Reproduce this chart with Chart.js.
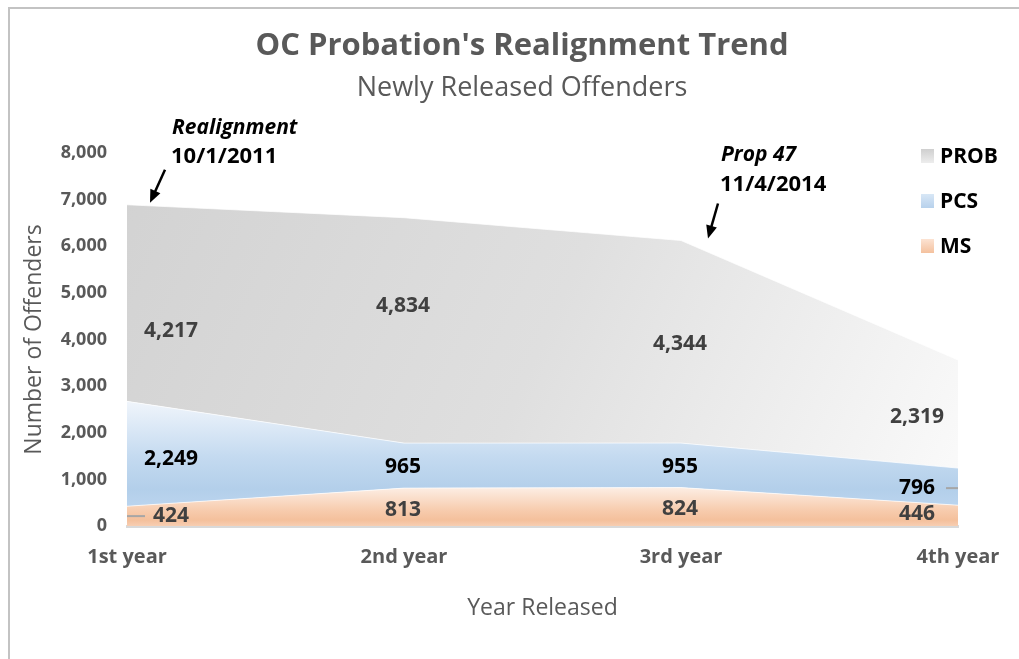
<!DOCTYPE html>
<html>
<head>
<meta charset="utf-8">
<script src="https://cdn.jsdelivr.net/npm/chart.js@4.4.1/dist/chart.umd.min.js"></script>
<style>
  html, body { margin: 0; padding: 0; background: #fff; }
  #frame { position: absolute; left: 8px; top: 7px; width: 1100px; height: 700px; border: 2px solid #c3c3c3; box-sizing: border-box; }
  #wrap { position: absolute; left: 0; top: 0; width: 1019px; height: 659px; }
</style>
</head>
<body>
<div id="frame"></div>
<div id="wrap"><canvas id="chart"></canvas></div>
<script>
// Chart data
const years = ['1st year', '2nd year', '3rd year', '4th year'];
const msValues = [424, 813, 824, 446];
const pcsValues = [2249, 965, 955, 796];
const probValues = [4217, 4834, 4344, 2319];

// Where each value label sits inside its band (0 = bottom, 1 = top)
const msSpot = [0.5, 0.42, 0.44, 0.58];
const pcsSpot = [0.45, 0.47, 0.46, 0.46];
const probSpot = [0.36, 0.61, 0.49, 0.47];
const labelShift = [44, -1, -1, -41];

const FONT = "'Open Sans', sans-serif";

// Gradient fills, built once the chart area is known
function probFill(context) {
  const chart = context.chart;
  const area = chart.chartArea;
  if (!area) return '#dddddd';
  const g = chart.ctx.createLinearGradient(area.left, area.top, area.right, area.bottom);
  g.addColorStop(0, '#d2d2d2');
  g.addColorStop(0.5, '#dfdfdf');
  g.addColorStop(1, '#fbfbfb');
  return g;
}

function pcsFill(context) {
  const chart = context.chart;
  if (!chart.chartArea) return '#c5dbf0';
  const y = chart.scales.y;
  const g = chart.ctx.createLinearGradient(0, y.getPixelForValue(2750), 0, y.getPixelForValue(450));
  g.addColorStop(0, '#f3f7fc');
  g.addColorStop(0.55, '#c4daf0');
  g.addColorStop(0.85, '#b3cfea');
  g.addColorStop(1, '#bad4ee');
  return g;
}

function msFill(context) {
  const chart = context.chart;
  if (!chart.chartArea) return '#f7cfb3';
  const y = chart.scales.y;
  const g = chart.ctx.createLinearGradient(0, y.getPixelForValue(850), 0, y.getPixelForValue(0));
  g.addColorStop(0, '#fdf0e7');
  g.addColorStop(0.6, '#f7ccae');
  g.addColorStop(0.85, '#f4c09c');
  g.addColorStop(1, '#f7ceb2');
  return g;
}

// Value labels drawn on top of the areas
const valueLabels = {
  id: 'valueLabels',
  afterDatasetsDraw(chart) {
    const { ctx, scales: { x, y } } = chart;
    const sets = chart.data.datasets;
    ctx.save();
    ctx.font = 'bold 21px ' + FONT;
    ctx.textAlign = 'center';
    ctx.textBaseline = 'middle';
    sets.forEach((ds, i) => {
      ds.data.forEach((v, j) => {
        let base = 0;
        for (let k = 0; k < i; k++) base += sets[k].data[j];
        const px = x.getPixelForValue(j) + labelShift[j];
        const py = y.getPixelForValue(base + v * ds.spot[j]);
        const text = v.toLocaleString('en-US');
        ctx.fillStyle = ds.labelColor;
        ctx.fillText(text, px, py);
        // leader lines for labels pulled away from their edge point
        if (ds.leader && ds.leader.index === j) {
          const w = ctx.measureText(text).width;
          const edge = x.getPixelForValue(j);
          ctx.strokeStyle = '#a6a6a6';
          ctx.lineWidth = 2;
          ctx.beginPath();
          if (ds.leader.side === 'left') {
            ctx.moveTo(edge, py);
            ctx.lineTo(px - w / 2 - 8, py);
          } else {
            ctx.moveTo(px + w / 2 + 11, py);
            ctx.lineTo(edge, py);
          }
          ctx.stroke();
        }
      });
    });
    ctx.restore();
  }
};

// Title, legend and the two callouts
const decorations = {
  id: 'decorations',
  afterDraw(chart) {
    const { ctx, scales: { x, y } } = chart;
    const sets = chart.data.datasets;
    ctx.save();

    ctx.fillStyle = '#595959';
    ctx.textAlign = 'center';
    ctx.textBaseline = 'middle';
    ctx.font = 'bold 31px ' + FONT;
    ctx.fillText("OC Probation's Realignment Trend", 522, 46);
    ctx.font = '27px ' + FONT;
    ctx.fillText('Newly Released Offenders', 522, 88);

    // legend, top series first
    const legendItems = [
      { name: 'PROB', top: '#cfcfcf', bottom: '#ededed' },
      { name: 'PCS', top: '#d8e7f6', bottom: '#b7d1ec' },
      { name: 'MS', top: '#fce3d3', bottom: '#f4c19e' }
    ];
    ctx.textAlign = 'left';
    ctx.font = 'bold 21px ' + FONT;
    legendItems.forEach((item, i) => {
      const cy = 156 + i * 45;
      const g = ctx.createLinearGradient(0, cy - 7, 0, cy + 7);
      g.addColorStop(0, item.top);
      g.addColorStop(1, item.bottom);
      ctx.fillStyle = g;
      ctx.fillRect(921, cy - 7, 13, 14);
      ctx.fillStyle = '#000';
      ctx.fillText(item.name, 940, cy + 1);
    });

    // callouts pointing at the stacked total of a year
    const notes = [
      { title: 'Realignment', date: '10/1/2011', at: 0, tip: [23, -2], tail: [38, -35], text: [45, -77] },
      { title: 'Prop 47', date: '11/4/2014', at: 2, tip: [27, -2], tail: [37, -37], text: [40, -85] }
    ];
    notes.forEach(n => {
      let total = 0;
      sets.forEach(ds => { total += ds.data[n.at]; });
      const ax = x.getPixelForValue(n.at);
      const ay = y.getPixelForValue(total);
      ctx.fillStyle = '#000';
      ctx.font = 'italic bold 21px ' + FONT;
      ctx.fillText(n.title, ax + n.text[0], ay + n.text[1]);
      ctx.font = 'bold 22px ' + FONT;
      ctx.fillText(n.date, ax + n.text[0] - 1, ay + n.text[1] + 29);

      const tx = ax + n.tip[0], ty = ay + n.tip[1];
      const sx = ax + n.tail[0], sy = ay + n.tail[1];
      const ang = Math.atan2(ty - sy, tx - sx);
      const head = 13;
      ctx.strokeStyle = '#000';
      ctx.lineWidth = 2.5;
      ctx.beginPath();
      ctx.moveTo(sx, sy);
      ctx.lineTo(tx - Math.cos(ang) * (head - 2), ty - Math.sin(ang) * (head - 2));
      ctx.stroke();
      ctx.beginPath();
      ctx.moveTo(tx, ty);
      ctx.lineTo(tx - head * Math.cos(ang) + 5.5 * Math.sin(ang), ty - head * Math.sin(ang) - 5.5 * Math.cos(ang));
      ctx.lineTo(tx - head * Math.cos(ang) - 5.5 * Math.sin(ang), ty - head * Math.sin(ang) + 5.5 * Math.cos(ang));
      ctx.closePath();
      ctx.fill();
    });

    ctx.restore();
  }
};

const config = {
  type: 'line',
  data: {
    labels: years,
    datasets: [
      { label: 'MS', data: msValues, fill: 'origin', backgroundColor: msFill, spot: msSpot, labelColor: '#404040', leader: { index: 0, side: 'left' } },
      { label: 'PCS', data: pcsValues, fill: '-1', backgroundColor: pcsFill, spot: pcsSpot, labelColor: '#000000', leader: { index: 3, side: 'right' } },
      { label: 'PROB', data: probValues, fill: '-1', backgroundColor: probFill, spot: probSpot, labelColor: '#404040' }
    ]
  },
  options: {
    responsive: true,
    maintainAspectRatio: false,
    animation: false,
    layout: { padding: { top: 153, right: 61, bottom: 0, left: 0 } },
    elements: {
      point: { radius: 0, hoverRadius: 0 },
      line: { tension: 0, borderWidth: 1, borderColor: 'rgba(255,255,255,0.7)' }
    },
    plugins: {
      legend: { display: false },
      tooltip: { enabled: false }
    },
    scales: {
      x: {
        offset: false,
        grid: { display: false, drawTicks: false },
        border: { display: true, color: '#d9d9d9', width: 3 },
        ticks: { color: '#595959', font: { family: FONT, size: 20, weight: 'bold' }, padding: 19, maxRotation: 0 },
        title: { display: true, text: 'Year Released', color: '#595959', font: { family: FONT, size: 23 }, padding: { bottom: 37 } },
        afterFit(scale) { scale.height = 133; }
      },
      y: {
        stacked: true,
        min: 0,
        max: 8000,
        grid: { display: false, drawTicks: false },
        border: { display: false },
        ticks: {
          stepSize: 1000,
          color: '#595959',
          padding: 20,
          font: { family: FONT, size: 18, weight: 'bold' },
          callback: v => v.toLocaleString('en-US')
        },
        title: { display: true, text: 'Number of Offenders', color: '#595959', font: { family: FONT, size: 23 }, padding: { top: 21 } },
        afterFit(scale) { scale.width = 127; }
      }
    }
  },
  plugins: [valueLabels, decorations]
};

new Chart(document.getElementById('chart'), config);
</script>
</body>
</html>
